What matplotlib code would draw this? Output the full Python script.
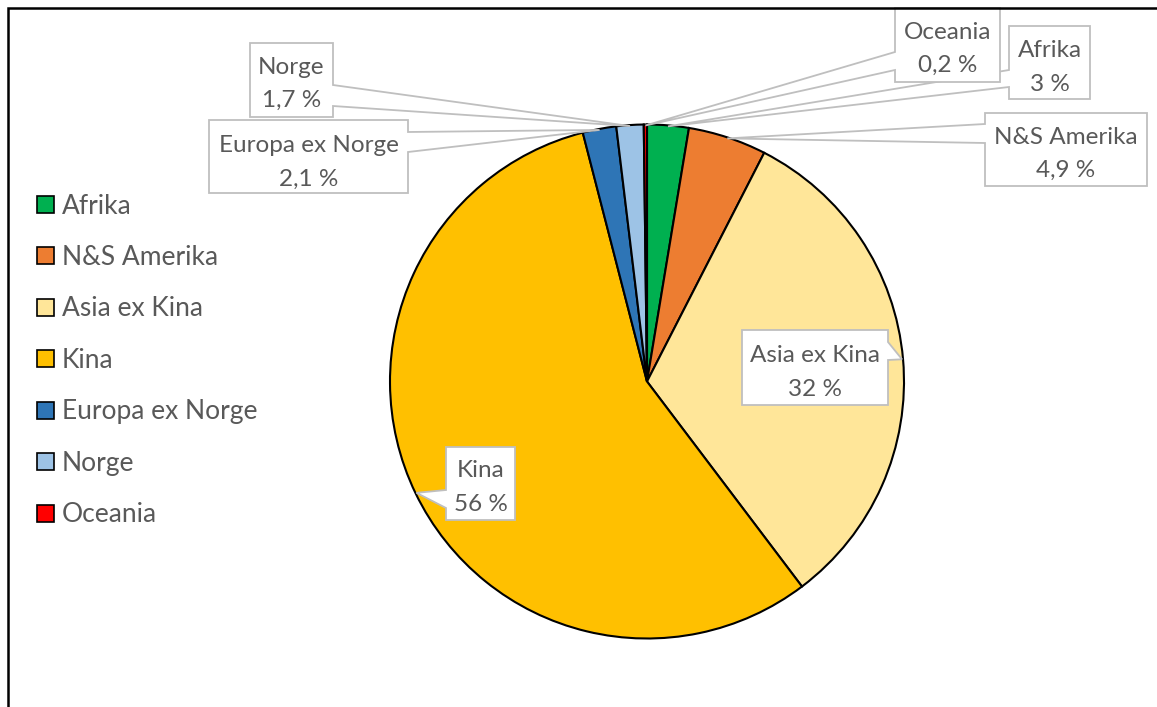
import math
import matplotlib
matplotlib.use("Agg")
import matplotlib.pyplot as plt
from matplotlib.patches import Rectangle, Polygon

# ---------------- data ----------------
categories = ["Afrika", "N&S Amerika", "Asia ex Kina", "Kina",
              "Europa ex Norge", "Norge", "Oceania"]
# slice sizes
values = [2.6, 4.9, 32, 56, 2.1, 1.7, 0.2]
# data-label texts as printed on the chart
value_labels = ["3 %", "4,9 %", "32 %", "56 %", "2,1 %", "1,7 %", "0,2 %"]
colors = ["#00B050", "#ED7D31", "#FFE699", "#FFC000",
          "#2E75B6", "#9DC3E6", "#FF0000"]

# ---------------- layout (pixel coords, y down) ----------------
W, H = 1157, 707
CX, CY, R = 647, 381.5, 257
TEXT_COLOR = "#595959"
BOX_EDGE = "#BFBFBF"
FONT = "Lato"
LABEL_FS = 17.5
LEGEND_FS = 19

# box: (x0, y0, x1, y1), wedge side, wedge base (yb0, yb1), line y centers
callouts = {
    "Oceania":         ((895, 8, 1000, 82),   "left",  (52, 70),   (30, 63)),
    "Afrika":          ((1009, 26, 1090, 99), "left",  (70, 87),   (48, 82)),
    "N&S Amerika":     ((985, 113, 1147, 186), "left", (124, 143), (135, 168)),
    "Norge":           ((250, 43, 333, 117),  "right", (85, 106),  (65, 98)),
    "Europa ex Norge": ((209, 120, 408, 193), "right", (132, 152), (143, 177)),
    "Asia ex Kina":    ((742, 330, 888, 405), "right", (342, 360), (353, 387)),
    "Kina":            ((446, 447, 515, 520), "left",  (490, 508), (468, 502)),
}
draw_order = ["Europa ex Norge", "Norge", "N&S Amerika", "Afrika", "Oceania",
              "Asia ex Kina", "Kina"]


def Y(y):
    return H - y


fig = plt.figure(figsize=(W / 100, H / 100), dpi=100)
ax = fig.add_axes([0, 0, 1, 1])

wedges, _ = ax.pie(values, colors=colors, startangle=90, counterclock=False,
                   center=(CX, Y(CY)), radius=R,
                   wedgeprops=dict(edgecolor="black", linewidth=1.5))
ax.set_xlim(0, W)
ax.set_ylim(0, H)
ax.set_aspect("equal")
ax.axis("off")

# outer chart frame (partially cut by image edge)
ax.add_patch(Rectangle((8, Y(H + 20)), W + 20, H + 12, fill=False,
                       edgecolor="black", linewidth=1.8, zorder=10,
                       clip_on=False))

# callouts
lookup = {c: (w, lab) for c, w, lab in zip(categories, wedges, value_labels)}
for name in draw_order:
    w, lab = lookup[name]
    (x0, y0, x1, y1), side, (yb0, yb1), (l1, l2) = callouts[name]
    mid = math.radians((w.theta1 + w.theta2) / 2)
    rr = R - 1
    apx = CX + rr * math.cos(mid)
    apy = Y(CY) + rr * math.sin(mid)
    if side == "left":
        pts = [(x0, Y(y0)), (x1, Y(y0)), (x1, Y(y1)), (x0, Y(y1)),
               (x0, Y(yb1)), (apx, apy), (x0, Y(yb0))]
    else:
        pts = [(x0, Y(y0)), (x1, Y(y0)), (x1, Y(yb0)), (apx, apy),
               (x1, Y(yb1)), (x1, Y(y1)), (x0, Y(y1))]
    ax.add_patch(Polygon(pts, closed=True, facecolor="white",
                         edgecolor=BOX_EDGE, linewidth=1.3, zorder=5,
                         joinstyle="miter"))
    xc = (x0 + x1) / 2
    em = LABEL_FS * 100 / 72
    for txt, yl in ((name, l1), (lab, l2)):
        ax.text(xc, Y(yl + 0.36 * em), txt, ha="center", va="baseline",
                fontsize=LABEL_FS, family=FONT, color=TEXT_COLOR, zorder=6)

# legend
row0, step = 204, 51.5
em = LEGEND_FS * 100 / 72
for i, (c, col) in enumerate(zip(categories, colors)):
    yc = row0 + i * step
    ax.add_patch(Rectangle((37, Y(yc + 8.5)), 17, 17, facecolor=col,
                           edgecolor="black", linewidth=1.2, zorder=6))
    ax.text(62, Y(yc + 0.36 * em), c, ha="left", va="baseline",
            fontsize=LEGEND_FS, family=FONT, color=TEXT_COLOR, zorder=6)

fig.savefig("out.png", dpi=100, facecolor="white")
